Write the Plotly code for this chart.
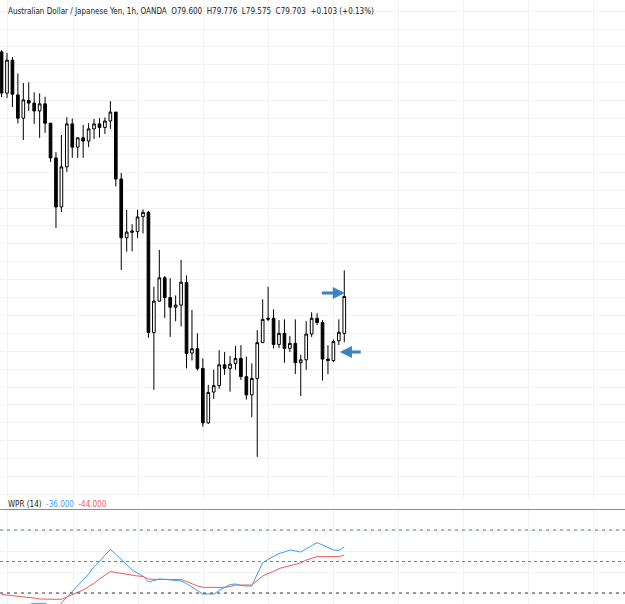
import plotly.graph_objects as go

opens = [80.386, 80.271, 80.363, 80.266, 80.201, 80.250, 80.243, 80.221, 80.241, 80.187,
         80.090, 79.953, 80.065, 80.185, 80.120, 80.146, 80.137, 80.171, 80.185, 80.175,
         80.193, 80.218, 80.031, 79.867, 79.882, 79.884, 79.926, 79.938, 79.602, 79.690,
         79.755, 79.700, 79.673, 79.679, 79.742, 79.545, 79.557, 79.502, 79.350, 79.436,
         79.454, 79.512, 79.502, 79.516, 79.530, 79.479, 79.428, 79.474, 79.574, 79.639,
         79.642, 79.569, 79.600, 79.558, 79.572, 79.518, 79.526, 79.598, 79.642, 79.630,
         79.528, 79.524, 79.579, 79.600]
highs = [80.391, 80.383, 80.372, 80.326, 80.299, 80.301, 80.273, 80.270, 80.261, 80.187,
         80.106, 80.154, 80.204, 80.200, 80.147, 80.182, 80.187, 80.199, 80.201, 80.203,
         80.249, 80.218, 80.048, 79.945, 79.905, 79.945, 79.946, 79.942, 79.730, 79.833,
         79.760, 79.754, 79.706, 79.805, 79.762, 79.665, 79.600, 79.530, 79.456, 79.498,
         79.553, 79.548, 79.537, 79.565, 79.567, 79.535, 79.516, 79.609, 79.695, 79.730,
         79.667, 79.637, 79.639, 79.593, 79.639, 79.540, 79.634, 79.659, 79.656, 79.637,
         79.567, 79.583, 79.639, 79.776]
lows = [80.260, 80.257, 80.232, 80.186, 80.140, 80.221, 80.185, 80.146, 80.160, 80.079,
        79.894, 79.939, 80.051, 80.090, 80.090, 80.090, 80.120, 80.143, 80.147, 80.157,
        80.171, 80.010, 79.777, 79.828, 79.829, 79.866, 79.879, 79.588, 79.442, 79.689,
        79.643, 79.590, 79.634, 79.619, 79.502, 79.524, 79.496, 79.339, 79.347, 79.417,
        79.445, 79.484, 79.437, 79.498, 79.470, 79.415, 79.366, 79.255, 79.574, 79.634,
        79.558, 79.559, 79.518, 79.548, 79.486, 79.425, 79.498, 79.590, 79.623, 79.468,
        79.486, 79.520, 79.567, 79.575]
closes = [80.271, 80.363, 80.268, 80.201, 80.252, 80.243, 80.221, 80.241, 80.187, 80.090,
          79.953, 80.065, 80.185, 80.120, 80.146, 80.137, 80.171, 80.185, 80.175, 80.193,
          80.218, 80.031, 79.867, 79.883, 79.886, 79.925, 79.938, 79.602, 79.690, 79.755,
          79.700, 79.673, 79.679, 79.743, 79.544, 79.557, 79.502, 79.350, 79.435, 79.454,
          79.512, 79.502, 79.514, 79.530, 79.479, 79.428, 79.474, 79.574, 79.639, 79.642,
          79.569, 79.600, 79.558, 79.572, 79.518, 79.526, 79.598, 79.642, 79.630, 79.528,
          79.524, 79.577, 79.603, 79.703]

wpr = [-98, -96, -97, -99, -95, -91, -89.8, -89.5, -89.8, -93,
       -96, -89.5, -84, -79, -73, -67, -62, -55, -50, -44,
       -38.5, -43, -47.6, -53, -58, -61.4, -64, -69.5, -68, -66.7,
       -67, -67.6, -68, -68.6, -71, -74.3, -77, -81, -81, -81,
       -77.6, -74.8, -71.9, -71.4, -72.9, -73.3, -73.3, -61.9, -51.4, -48,
       -44.8, -42.4, -41, -39, -40, -41, -38, -34.8, -32, -34.3,
       -36.7, -39, -39.5, -36]
wpr_ma = [-81.4, -81.9, -82.4, -82.9, -83.8, -84.3, -84.8, -85.7, -86, -86,
          -86, -86, -83.7, -81.7, -79.4, -77.1, -74, -70.8, -66.7, -63.3,
          -59.5, -60.5, -61.4, -62.4, -63.6, -63.8, -64.3, -66.7, -67, -67,
          -67, -67, -67, -67.1, -69, -71.4, -73.3, -74.6, -74.6, -74.6,
          -74.6, -74.6, -73.8, -72.4, -72.4, -72.4, -72.4, -68.1, -63.8, -61.4,
          -59.5, -56.7, -55.2, -53.8, -52.7, -51.4, -48.6, -46.7, -45.4, -45.4,
          -45.4, -45.4, -45.3, -44]
levels = [-20, -50, -80]

idx = list(range(len(opens)))

W, H = 625, 604
main_bottom_px = 498
ind_top_px = 509
grid = '#f0f2f6'

fig = go.Figure()
fig.add_trace(go.Candlestick(
    x=idx, open=opens, high=highs, low=lows, close=closes,
    increasing=dict(line=dict(color='#000000', width=1), fillcolor='#ffffff'),
    decreasing=dict(line=dict(color='#000000', width=1), fillcolor='#000000'),
    whiskerwidth=0, showlegend=False, hoverinfo='skip',
    xaxis='x', yaxis='y'))

fig.add_trace(go.Scatter(x=idx, y=wpr_ma, mode='lines', line=dict(color='#f05a5a', width=1),
                         xaxis='x2', yaxis='y2', showlegend=False, hoverinfo='skip'))
fig.add_trace(go.Scatter(x=idx, y=wpr, mode='lines', line=dict(color='#3d9df0', width=1),
                         xaxis='x2', yaxis='y2', showlegend=False, hoverinfo='skip'))

xr = [-0.287, -0.287 + W / 5.44]
xcommon = dict(range=xr, showticklabels=False, showgrid=True, gridcolor=grid, gridwidth=1,
               tick0=1.18, dtick=11.96, zeroline=False, showline=False, ticks='')
top_price = 80.531
k = 0.002793
fig.update_layout(
    width=W, height=H, margin=dict(l=0, r=0, t=0, b=0),
    paper_bgcolor='white', plot_bgcolor='white',
    xaxis=dict(**xcommon, anchor='y', rangeslider=dict(visible=False)),
    xaxis2=dict(**xcommon, anchor='y2'),
    yaxis=dict(domain=[1 - main_bottom_px / H, 1], range=[top_price - k * main_bottom_px, top_price],
               showticklabels=False, showgrid=True, gridcolor=grid, tick0=80.0, dtick=0.05,
               zeroline=False, ticks=''),
    yaxis2=dict(domain=[0, 1 - ind_top_px / H], range=[-(H - ind_top_px) / 1.05, 0],
                showticklabels=False, showgrid=True, gridcolor=grid, tick0=0, dtick=20,
                zeroline=False, ticks=''),
)

lvl_styles = [('#5f7870', '3px,4px'), ('#ef4f4f', '3px,3px'), ('#2f3a38', '3px,4px')]
for lv, (c, d) in zip(levels, lvl_styles):
    fig.add_shape(type='line', xref='paper', x0=0, x1=1, yref='y2', y0=lv, y1=lv,
                  line=dict(color=c, width=1, dash=d))
fig.add_shape(type='line', xref='paper', x0=0, x1=1, yref='y2', y0=0, y1=0,
              line=dict(color='#8c8c8c', width=2))

# arrows
fig.add_annotation(x=63.1, y=79.713, ax=58.6, ay=79.713, xref='x', yref='y', axref='x', ayref='y',
                   showarrow=True, arrowhead=2, arrowsize=0.8, arrowwidth=3, arrowcolor='#3b82c4', text='')
fig.add_annotation(x=62.2, y=79.548, ax=66.3, ay=79.548, xref='x', yref='y', axref='x', ayref='y',
                   showarrow=True, arrowhead=2, arrowsize=0.8, arrowwidth=3, arrowcolor='#3b82c4', text='')

tfont = 'Liberation Sans Narrow, DejaVu Sans Condensed, Liberation Sans, sans-serif'
fig.add_annotation(xref='paper', yref='paper', x=6 / W, y=1 - 11 / H, xanchor='left', yanchor='middle',
                   showarrow=False,
                   text='Australian Dollar / Japanese Yen, 1h, OANDA&nbsp;&nbsp;O79.600&nbsp;&nbsp;H79.776&nbsp;&nbsp;L79.575&nbsp;&nbsp;C79.703&nbsp;&nbsp;+0.103 (+0.13%)',
                   font=dict(family=tfont, size=8, color='#222222'))
fig.add_annotation(xref='paper', yref='paper', x=6 / W, y=1 - 504 / H, xanchor='left', yanchor='middle',
                   showarrow=False,
                   text='WPR (14)&nbsp;&nbsp;<span style="color:#3d9df0">-36.000</span>&nbsp;&nbsp;<span style="color:#f05a5a">-44.000</span>',
                   font=dict(family=tfont, size=8, color='#222222'))

fig.write_html('out.html')
